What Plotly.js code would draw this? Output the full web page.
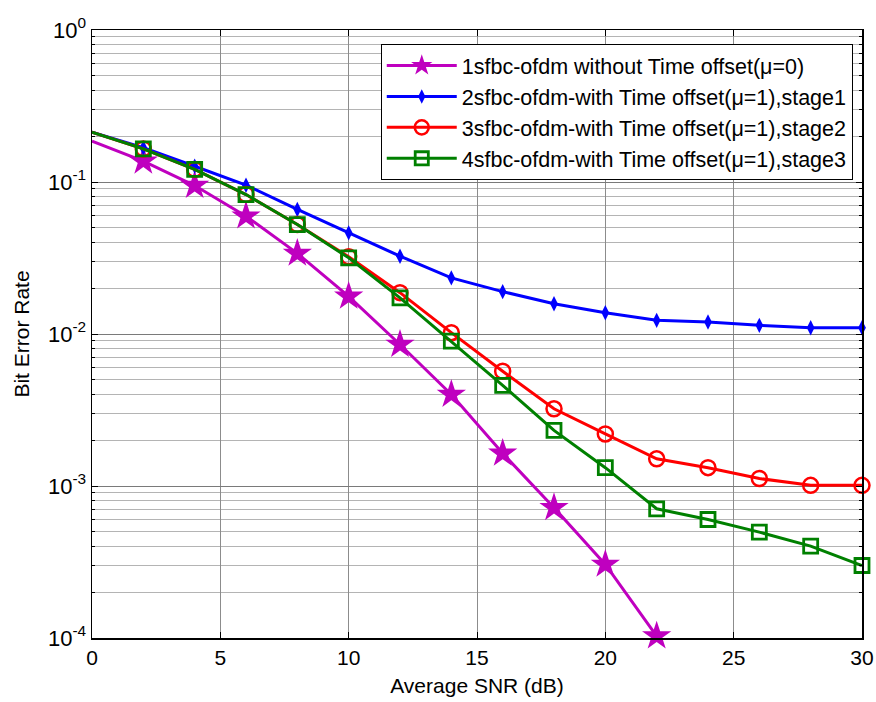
<!DOCTYPE html>
<html><head><meta charset="utf-8">
<script src="https://cdn.plot.ly/plotly-3.0.1.min.js"></script>
<style>html,body{margin:0;padding:0;background:#fff}#chart{width:876px;height:702px}</style>
</head><body><div id="chart"></div>
<script>
const snr = [0,2,4,6,8,10,12,14,16,18,20,22,24,26,28,30];
const snrNoOffset = [0,2,4,6,8,10,12,14,16,18,20,22];
const berNoOffset = [0.186,0.137,0.0948,0.0596,0.0339,0.0177,0.00853,0.0040,0.00164,0.00072,0.000305,0.000103];
const berStage1 = [0.213,0.168,0.127,0.0953,0.0660,0.0463,0.0325,0.0234,0.0190,0.0158,0.0138,0.0123,0.0120,0.0114,0.0110,0.0110];
const berStage2 = [0.213,0.165,0.121,0.0827,0.0525,0.0322,0.0187,0.0102,0.00569,0.00322,0.00220,0.00151,0.00132,0.00112,0.00101,0.00101];
const berStage3 = [0.213,0.165,0.121,0.0827,0.0525,0.0317,0.0173,0.00897,0.00459,0.00232,0.00132,0.000708,0.000602,0.000497,0.000402,0.000300];
const names = ['1sfbc-ofdm without Time offset(\u03bc=0)','2sfbc-ofdm-with Time offset(\u03bc=1),stage1','3sfbc-ofdm-with Time offset(\u03bc=1),stage2','4sfbc-ofdm-with Time offset(\u03bc=1),stage3'];
const yTickVals = [1e-4,1e-3,1e-2,1e-1,1];
const yTickText = ['10<sup>-4</sup>','10<sup>-3</sup>','10<sup>-2</sup>','10<sup>-1</sup>','10<sup>0</sup>'];
const xTickVals = [0,5,10,15,20,25,30];

function sizes(n, s){ return Array.from({length:n},(_,i)=> i===0 ? 0 : s); }

const traces = [
 {x:snrNoOffset, y:berNoOffset, name:names[0], mode:'lines+markers', cliponaxis:false,
  line:{color:'#BF00BF', width:3}, marker:{symbol:'star', size:sizes(snrNoOffset.length,22), color:'#BF00BF', opacity:1, line:{width:0}}},
 {x:snr, y:berStage1, name:names[1], mode:'lines+markers', cliponaxis:false,
  line:{color:'#0000FF', width:3}, marker:{symbol:'diamond-tall', size:sizes(snr.length,11), color:'#0000FF', opacity:1, line:{width:0}}},
 {x:snr, y:berStage2, name:names[2], mode:'lines+markers', cliponaxis:false,
  line:{color:'#FF0000', width:3}, marker:{symbol:'circle-open', size:sizes(snr.length,15), color:'#FF0000', opacity:1, line:{width:2.5}}},
 {x:snr, y:berStage3, name:names[3], mode:'lines+markers', cliponaxis:false,
  line:{color:'#008000', width:3}, marker:{symbol:'square-open', size:sizes(snr.length,14), color:'#008000', opacity:1, line:{width:2.8}}}
];

const fam = 'Liberation Sans, Arial, sans-serif';
const layout = {
 width:876, height:702,
 margin:{l:92, r:14, t:30, b:64},
 paper_bgcolor:'#fff', plot_bgcolor:'#fff',
 font:{family:fam, size:21, color:'#000'},
 showlegend:true,
 legend:{x:0.988, y:0.977, xanchor:'right', yanchor:'top', bgcolor:'#fff', bordercolor:'#000', borderwidth:1,
   font:{family:fam, size:21.5, color:'#000'}, itemwidth:70, tracegroupgap:0, entrywidth:500, entrywidthmode:'pixels'},
 xaxis:{range:[0,30], tickvals:xTickVals, ticks:'inside', ticklen:6, tickcolor:'#000', showline:true, linecolor:'#000', linewidth:1.5,
   mirror:'ticks', showgrid:true, gridcolor:'#8c8c8c', gridwidth:1, zeroline:false, automargin:false,
   title:{text:'Average SNR (dB)', font:{family:fam, size:21, color:'#000'}, standoff:10}, tickfont:{family:fam, size:21, color:'#000'}},
 yaxis:{type:'log', range:[-4,0], tickvals:yTickVals, ticktext:yTickText, ticks:'inside', ticklen:6, tickcolor:'#000',
   showline:true, linecolor:'#000', linewidth:1.5, mirror:'ticks', showgrid:true, gridcolor:'#7a7a7a', gridwidth:1, zeroline:false, automargin:false,
   minor:{dtick:'D1', showgrid:true, gridcolor:'#b4b4b4', gridwidth:1, ticks:'inside', ticklen:3, tickcolor:'#000'},
   title:{text:'Bit Error Rate', font:{family:fam, size:21, color:'#000'}, standoff:12}, tickfont:{family:fam, size:22, color:'#000'}}
};
Plotly.newPlot('chart', traces, layout, {displayModeBar:false, staticPlot:true});
</script></body></html>
